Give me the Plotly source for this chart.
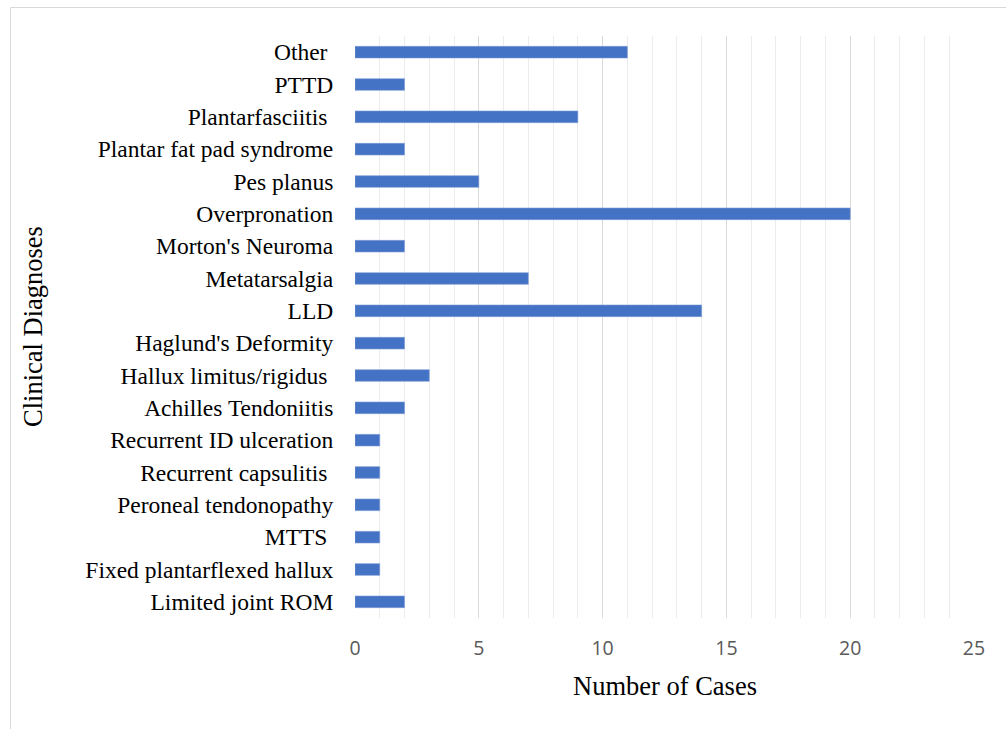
import plotly.graph_objects as go

# Clinical diagnoses, listed bottom to top as they stack on the category axis
diagnoses = [
    "Limited joint ROM",
    "Fixed plantarflexed hallux",
    "MTTS ",
    "Peroneal tendonopathy",
    "Recurrent capsulitis ",
    "Recurrent ID ulceration",
    "Achilles Tendoniitis",
    "Hallux limitus/rigidus ",
    "Haglund's Deformity",
    "LLD",
    "Metatarsalgia",
    "Morton's Neuroma",
    "Overpronation",
    "Pes planus",
    "Plantar fat pad syndrome",
    "Plantarfasciitis ",
    "PTTD",
    "Other ",
]
cases = [2, 1, 1, 1, 1, 1, 2, 3, 2, 14, 7, 2, 20, 5, 2, 9, 2, 11]
x_ticks = [0, 5, 10, 15, 20, 25]

W, H = 1006, 729
L, R, T, B = 355, 32, 36, 111
pw, ph = W - L - R, H - T - B

SERIF = "Liberation Serif, Times New Roman, serif"

fig = go.Figure(
    go.Bar(
        x=cases,
        y=diagnoses,
        orientation="h",
        width=0.36,
        marker=dict(color="#4472C4", line=dict(color="#7d9bd6", width=0.6)),
        hoverinfo="x+y",
    )
)

fig.update_layout(
    width=W,
    height=H,
    margin=dict(l=L, r=R, t=T, b=B, pad=0),
    paper_bgcolor="white",
    plot_bgcolor="white",
    showlegend=False,
    bargap=0.64,
)

fig.update_xaxes(
    range=[0, 25],
    tickvals=x_ticks,
    ticktext=[str(v) for v in x_ticks],
    tickfont=dict(family="Open Sans, Liberation Sans, sans-serif", size=19.5, color="#595959"),
    showgrid=True,
    gridcolor="#d9d9d9",
    gridwidth=1,
    minor=dict(dtick=1, showgrid=True, gridcolor="#ececec", gridwidth=1),
    zeroline=False,
    showline=False,
    ticks="outside",
    ticklen=13,
    tickcolor="rgba(0,0,0,0)",
    fixedrange=True,
)

fig.update_yaxes(
    categoryorder="array",
    categoryarray=diagnoses,
    tickvals=diagnoses,
    ticktext=[d.replace(" ", "\u00a0") if d.endswith(" ") else d for d in diagnoses],
    tickfont=dict(family=SERIF, size=23.5, color="black"),
    showgrid=False,
    zeroline=False,
    showline=False,
    ticks="outside",
    ticklen=16,
    tickcolor="rgba(0,0,0,0)",
    range=[-0.5, len(diagnoses) - 0.5],
    fixedrange=True,
)

# Axis titles
fig.add_annotation(
    text="Number of Cases",
    xref="paper", yref="paper",
    x=0.5, y=-(686 - (T + ph)) / ph,
    xanchor="center", yanchor="middle",
    showarrow=False,
    font=dict(family=SERIF, size=26.5, color="black"),
)
fig.add_annotation(
    text="Clinical Diagnoses",
    xref="paper", yref="paper",
    x=(33 - L) / pw, y=0.5,
    xanchor="center", yanchor="middle",
    textangle=-90,
    showarrow=False,
    font=dict(family=SERIF, size=26.5, color="black"),
)

# Chart frame
fig.add_shape(
    type="rect",
    xref="paper", yref="paper",
    x0=(10.5 - L) / pw, x1=(W + 20 - L) / pw,
    y0=-(H + 20 - (T + ph)) / ph, y1=1 + (T - 7.5) / ph,
    line=dict(color="#d9d9d9", width=1),
    fillcolor="rgba(0,0,0,0)",
    layer="below",
)

fig.write_html("out.html")
